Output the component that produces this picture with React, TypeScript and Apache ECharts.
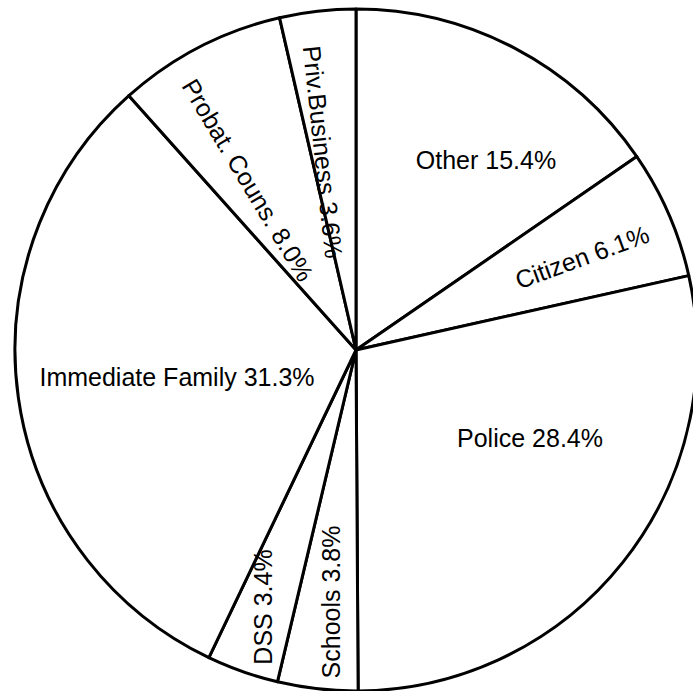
import React, { useEffect, useRef } from "react";
import * as echarts from "echarts";

const categories = [
  "Other",
  "Citizen",
  "Police",
  "Schools",
  "DSS",
  "Immediate Family",
  "Probat. Couns.",
  "Priv.Business",
];
const percents = [15.4, 6.1, 28.4, 3.8, 3.4, 31.3, 8.0, 3.6];

// label placement (style only)
const labelRotate = [0, 20, 0, 90, 90, 0, -59, -84];
const labelCenters: [number, number][] = [
  [486, 160],
  [582, 257],
  [530, 438],
  [331, 602],
  [263, 607],
  [177, 377],
  [248, 180],
  [323, 152],
];

export default function App() {
  const ref = useRef<HTMLDivElement>(null);
  useEffect(() => {
    document.body.style.margin = "0";
    const chart = echarts.init(ref.current!, null, { renderer: "svg" });
    chart.setOption({
      animation: false,
      backgroundColor: "#ffffff",
      series: [
        {
          type: "pie",
          center: [356, 350],
          radius: [0, 341],
          startAngle: 90,
          clockwise: true,
          avoidLabelOverlap: false,
          silent: true,
          itemStyle: { color: "#ffffff", borderColor: "#000000", borderWidth: 3 },
          label: {
            show: true,
            position: "inside",
            color: "#000000",
            fontFamily: "'Liberation Sans', Arial, Helvetica, sans-serif",
            fontSize: 25,
            formatter: (p: any) => `${p.name} ${Number(p.value).toFixed(1)}%`,
          },
          labelLine: { show: false },
          labelLayout: (params: any) => {
            const c = labelCenters[params.dataIndex];
            return { x: c[0], y: c[1] };
          },
          data: categories.map((name, i) => ({
            name,
            value: percents[i],
            label: { rotate: labelRotate[i] },
          })),
        },
      ],
    });
    return () => chart.dispose();
  }, []);
  return <div ref={ref} style={{ width: 693, height: 691 }} />;
}
